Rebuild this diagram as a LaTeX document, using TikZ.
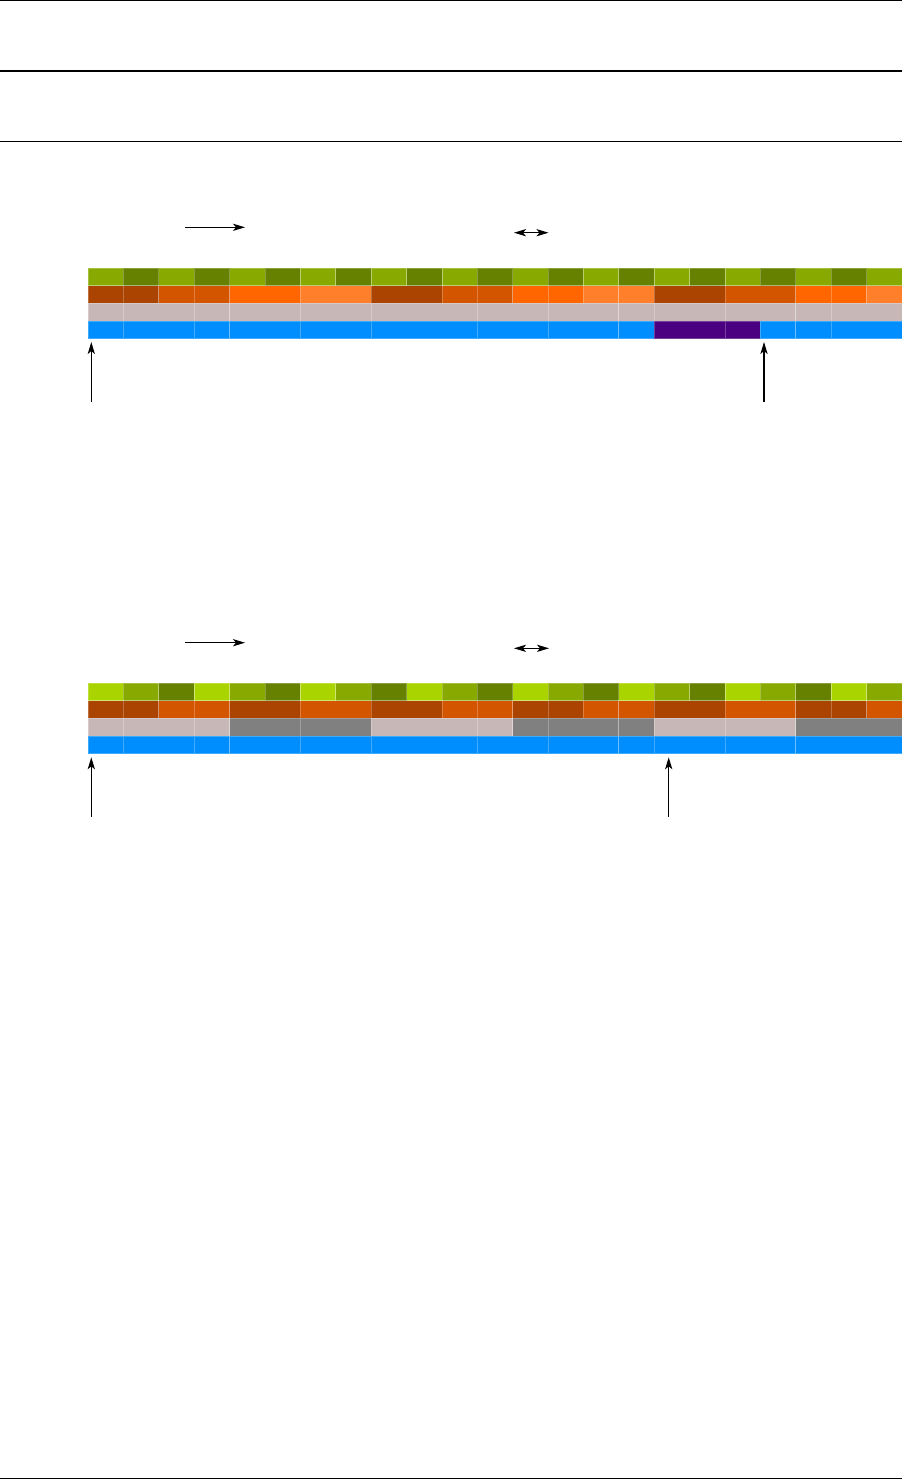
\documentclass[tikz,border=0pt]{standalone}
\usetikzlibrary{arrows.meta}
\definecolor{gl}{HTML}{88AA00}
\definecolor{gd}{HTML}{668000}
\definecolor{gy}{HTML}{AAD400}
\definecolor{oa}{HTML}{AA4400}
\definecolor{ob}{HTML}{D45500}
\definecolor{oc}{HTML}{FF6600}
\definecolor{od}{HTML}{FF7F2A}
\definecolor{sl}{HTML}{C8B7B7}
\definecolor{sd}{HTML}{808080}
\definecolor{bl}{HTML}{008EFF}
\definecolor{pu}{HTML}{4A0080}
\tikzset{cell/.style={draw=white, draw opacity=0.25, line width=0.4pt},
  rule/.style={line width=0.55pt}}
\begin{document}
\begin{tikzpicture}[x=0.5pt, y=-0.5pt, line join=round, >={Stealth[length=6pt,width=3.6pt,inset=1.5pt]}]
            \useasboundingbox (0,0) rectangle (904,1479);
            \def\xo{88}\def\w{35.39}\def\h{17.7}
            % page rules
            \draw[rule] (0,0.5)--(902,0.5);
            \draw[rule] (0,71)--(902,71);
            \draw[rule] (0,141.3)--(902,141.3);
            \draw[rule] (0,1478.3)--(902,1478.3);
            % first strip
            \def\yo{268}
            \foreach \i in {0,2,...,22}\draw[cell,fill=gl] (\xo+\i*\w,\yo) rectangle ++(\w,\h);
            \foreach \i in {1,3,...,21}\draw[cell,fill=gd] (\xo+\i*\w,\yo) rectangle ++(\w,\h);
            \foreach \a/\n/\c in {0/1/oa,1/1/oa,2/1/ob,3/1/ob,4/2/oc,6/2/od,8/2/oa,10/1/ob,11/1/ob,12/1/oc,13/1/oc,14/1/od,15/1/od,16/2/oa,18/2/ob,20/1/oc,21/1/oc,22/1/od}
              \draw[cell,fill=\c] (\xo+\a*\w,\yo+\h) rectangle ++(\n*\w,\h);
            \foreach \a/\n in {0/1,1/2,3/1,4/2,6/2,8/3,11/2,13/2,15/1,16/2,18/2,20/1,21/2}
              \draw[cell,fill=sl] (\xo+\a*\w,\yo+2*\h) rectangle ++(\n*\w,\h);
            \foreach \a/\n/\c in {0/1/bl,1/2/bl,3/1/bl,4/2/bl,6/2/bl,8/3/bl,11/2/bl,13/2/bl,15/1/bl,16/2/pu,18/1/pu,19/1/bl,20/1/bl,21/2/bl}
              \draw[cell,fill=\c] (\xo+\a*\w,\yo+3*\h) rectangle ++(\n*\w,\h);
            \coordinate (ra1) at (185,227.3); \coordinate (rb1) at (245,227.3);
            \coordinate (da1) at (514,232.7); \coordinate (db1) at (548.5,232.7);
            \coordinate (pa1) at (91.3,401.7); \coordinate (pb1) at (91.3,342);
            \coordinate (qa1) at (764,401.7); \coordinate (qb1) at (764,342);
            \draw[->,rule] (ra1)--(rb1);
            \draw[<->,rule] (da1)--(db1);
            \draw[->,rule] (pa1)--(pb1);
            \draw[->,rule] (qa1)--(qb1);
            % second strip
            \def\yo{683}
            \foreach \i in {0,3,...,21}\draw[cell,fill=gy] (\xo+\i*\w,\yo) rectangle ++(\w,\h);
            \foreach \i in {1,4,...,22}\draw[cell,fill=gl] (\xo+\i*\w,\yo) rectangle ++(\w,\h);
            \foreach \i in {2,5,...,20}\draw[cell,fill=gd] (\xo+\i*\w,\yo) rectangle ++(\w,\h);
            \foreach \a/\n/\c in {0/1/oa,1/1/oa,2/1/ob,3/1/ob,4/2/oa,6/2/ob,8/2/oa,10/1/ob,11/1/ob,12/1/oa,13/1/oa,14/1/ob,15/1/ob,16/2/oa,18/2/ob,20/1/oa,21/1/oa,22/1/ob}
              \draw[cell,fill=\c] (\xo+\a*\w,\yo+\h) rectangle ++(\n*\w,\h);
            \foreach \a/\n/\c in {0/1/sl,1/2/sl,3/1/sl,4/2/sd,6/2/sd,8/3/sl,11/1/sl,12/1/sd,13/2/sd,15/1/sd,16/2/sl,18/2/sl,20/3/sd}
              \draw[cell,fill=\c] (\xo+\a*\w,\yo+2*\h) rectangle ++(\n*\w,\h);
            \foreach \a/\n in {0/1,1/2,3/1,4/2,6/2,8/3,11/2,13/2,15/1,16/2,18/2,20/3}
              \draw[cell,fill=bl] (\xo+\a*\w,\yo+3*\h) rectangle ++(\n*\w,\h);
            \coordinate (ra2) at (185,642.7); \coordinate (rb2) at (245,642.7);
            \coordinate (da2) at (514,648.3); \coordinate (db2) at (549,648.3);
            \coordinate (pa2) at (91.3,816.7); \coordinate (pb2) at (91.3,757.3);
            \coordinate (qa2) at (668.7,816.7); \coordinate (qb2) at (668.7,757.3);
            \draw[->,rule] (ra2)--(rb2);
            \draw[<->,rule] (da2)--(db2);
            \draw[->,rule] (pa2)--(pb2);
            \draw[->,rule] (qa2)--(qb2);
        \end{tikzpicture}
\end{document}
